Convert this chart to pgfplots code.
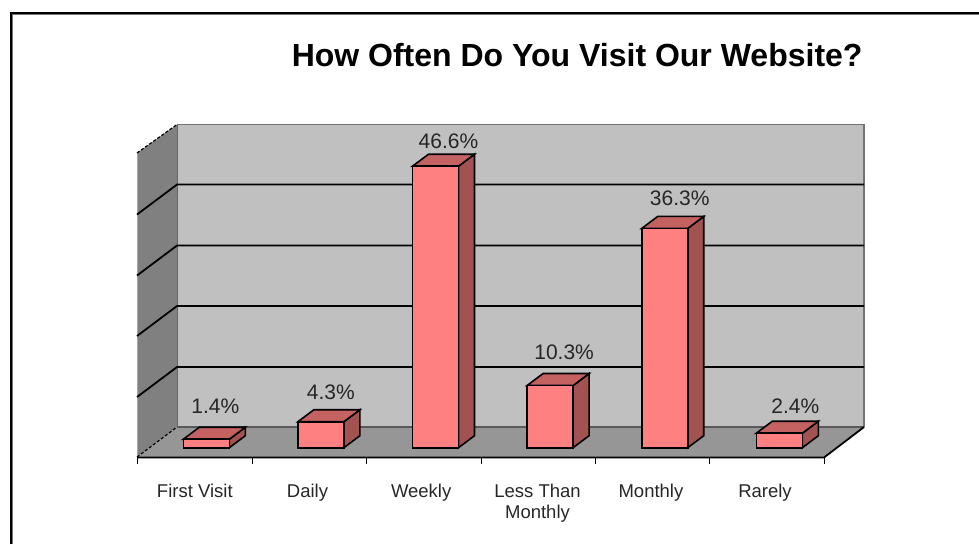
\documentclass[border=0pt]{standalone}
\usepackage{pgfplots}
\usepackage{pgfplotstable}
\pgfplotsset{compat=1.18}
\usepackage{fontspec}
\setmainfont{Liberation Sans}
\definecolor{wall}{HTML}{C0C0C0}
\definecolor{sidewall}{HTML}{808080}
\definecolor{floorc}{HTML}{969696}
\definecolor{barfront}{HTML}{FF8080}
\definecolor{bartop}{HTML}{C46262}
\definecolor{barside}{HTML}{A35252}
\definecolor{txt}{HTML}{262626}
\pgfplotstableread{
i v lx ly
0 1.4 9 33
1 4.3 10 29
2 46.6 13 25
3 10.3 14 33
4 36.3 15 30
5 2.4 16 27
}\survey
\pgfplotsset{frame/.style={scale only axis,width=979pt,height=544pt,at={(0,0)},anchor=south west}}
\begin{document}
\begin{tikzpicture}
\path[use as bounding box] (0,0) rectangle (979pt,544pt);
% chart furniture, in picture units
\begin{axis}[frame,hide axis,xmin=0,xmax=979,ymin=0,ymax=544,y dir=reverse]
\addplot[draw=none,fill=wall] coordinates {(177,124.5)(864,124.5)(864,427)(177,427)} --cycle;
\addplot[draw=none,fill=sidewall] coordinates {(137,153)(177,124.5)(177,427)(137,457)} --cycle;
\addplot[draw=none,fill=floorc] coordinates {(137,457)(177,427)(864,427)(824,457)} --cycle;
% edges
\addplot[color=gray!90!black,line width=1.4pt] coordinates {(177,124.5)(864,124.5)(864,427)};
\addplot[color=black!65,line width=1.2pt] coordinates {(177,427)(864,427)};
\addplot[color=black!60,line width=0.8pt] coordinates {(177,124.5)(177,427)};
\addplot[color=black!35,line width=1pt] coordinates {(137,153)(137,457)};
\addplot[black,line width=1.2pt,dash pattern=on 3pt off 2pt] coordinates {(137,153)(177,124.5)};
\addplot[black,line width=1.2pt,dash pattern=on 3pt off 2pt] coordinates {(137,457)(177,427)};
% grid lines on both walls
\addplot[black,line width=1.8pt] coordinates {(137,214.5)(177,184.5)(864,184.5)};
\addplot[black,line width=1.8pt] coordinates {(137,275.5)(177,245.5)(864,245.5)};
\addplot[black,line width=1.8pt] coordinates {(137,336)(177,306)(864,306)};
\addplot[black,line width=1.8pt] coordinates {(137,397)(177,367)(864,367)};
% floor front and ticks
\addplot[black,line width=1.8pt] coordinates {(137,457.5)(824,457.5)(864,427)};
\addplot[black,line width=1pt] coordinates {(137.5,457)(137.5,464)};
\addplot[black,line width=1pt] coordinates {(252,457)(252,464)};
\addplot[black,line width=1pt] coordinates {(366,457)(366,464)};
\addplot[black,line width=1pt] coordinates {(481,457)(481,464)};
\addplot[black,line width=1pt] coordinates {(595,457)(595,464)};
\addplot[black,line width=1pt] coordinates {(709,457)(709,464)};
\addplot[black,line width=1pt] coordinates {(824,457)(824,464)};
% picture frame
\addplot[color=black!55,line width=1pt] coordinates {(12.5,544)(12.5,14)(979,14)};
\addplot[black,line width=2pt] coordinates {(10.5,544)(10.5,12.5)(979,12.5)};
\end{axis}
% data
\begin{axis}[frame,xmin=-1.8002,xmax=6.7425,ymin=-15.94,ymax=74.12,
  axis line style={draw=none},
  tick style={draw=none},major tick length=0pt,
  ytick=\empty,
  xtick={-0.1,0.883,1.875,2.89,3.88,4.875},
  xticklabels={First Visit,Daily,Weekly,{Less Than\\Monthly},Monthly,Rarely},
  xticklabel style={anchor=north,yshift=60pt,align=center,text=txt,inner sep=0pt,
    font=\fontsize{18.5}{21}\selectfont},
  /pgf/number format/assume math mode=true,
  clip=false]
% right faces
\addplot[draw=black,line width=1.6pt,fill=barside] coordinates {(0.2007,0)(0.3403,1.987)(0.3403,3.387)(0.2007,1.4)} --cycle;
\addplot[draw=black,line width=1.6pt,fill=barside] coordinates {(1.2007,0)(1.3403,1.987)(1.3403,6.287)(1.2007,4.3)} --cycle;
\addplot[draw=black,line width=1.6pt,fill=barside] coordinates {(2.2007,0)(2.3403,1.987)(2.3403,48.587)(2.2007,46.6)} --cycle;
\addplot[draw=black,line width=1.6pt,fill=barside] coordinates {(3.2007,0)(3.3403,1.987)(3.3403,12.287)(3.2007,10.3)} --cycle;
\addplot[draw=black,line width=1.6pt,fill=barside] coordinates {(4.2007,0)(4.3403,1.987)(4.3403,38.287)(4.2007,36.3)} --cycle;
\addplot[draw=black,line width=1.6pt,fill=barside] coordinates {(5.2007,0)(5.3403,1.987)(5.3403,4.387)(5.2007,2.4)} --cycle;
% top faces
\addplot[draw=black,line width=1.6pt,fill=bartop] coordinates {(-0.2007,1.4)(-0.0611,3.387)(0.3403,3.387)(0.2007,1.4)} --cycle;
\addplot[draw=black,line width=1.6pt,fill=bartop] coordinates {(0.7993,4.3)(0.9389,6.287)(1.3403,6.287)(1.2007,4.3)} --cycle;
\addplot[draw=black,line width=1.6pt,fill=bartop] coordinates {(1.7993,46.6)(1.9389,48.587)(2.3403,48.587)(2.2007,46.6)} --cycle;
\addplot[draw=black,line width=1.6pt,fill=bartop] coordinates {(2.7993,10.3)(2.9389,12.287)(3.3403,12.287)(3.2007,10.3)} --cycle;
\addplot[draw=black,line width=1.6pt,fill=bartop] coordinates {(3.7993,36.3)(3.9389,38.287)(4.3403,38.287)(4.2007,36.3)} --cycle;
\addplot[draw=black,line width=1.6pt,fill=bartop] coordinates {(4.7993,2.4)(4.9389,4.387)(5.3403,4.387)(5.2007,2.4)} --cycle;
% fronts with value labels
\addplot[ybar,bar width=46pt,draw=black,line width=1.6pt,fill=barfront,
  visualization depends on={\thisrow{lx} \as \lx},
  visualization depends on={\thisrow{ly} \as \ly},
  nodes near coords={\pgfmathprintnumber[fixed,fixed zerofill,precision=1]{\pgfplotspointmeta}\%},
  every node near coord/.append style={anchor=center,inner sep=0pt,text=txt,
    xshift=\lx pt,yshift=\ly pt,font=\fontsize{21}{22}\selectfont}]
  table[x=i,y=v] {\survey};
\node[anchor=center,inner sep=0pt,font=\fontsize{32}{34}\selectfont\bfseries] at (rel axis cs:0.5895,0.8989) {How Often Do You Visit Our Website?};
\end{axis}
\end{tikzpicture}
\end{document}
